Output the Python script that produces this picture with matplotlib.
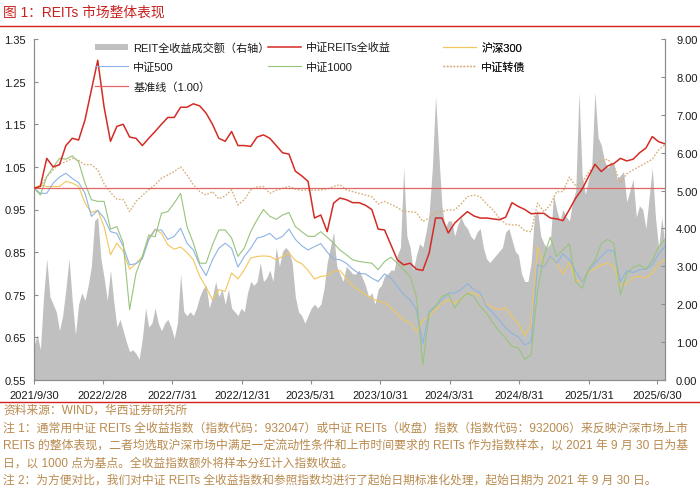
import matplotlib
matplotlib.use("Agg")
import matplotlib.pyplot as plt
from matplotlib.patches import Patch
from matplotlib.lines import Line2D
import pandas as pd

plt.rcParams['font.family'] = ['Liberation Sans', 'Noto Sans CJK SC', 'DejaVu Sans']

# ---------------- data ----------------
start_date = "2021-09-30"
line_dates = pd.date_range(start_date, periods=100, freq="14D")
vol_dates = pd.date_range(start_date, periods=199, freq="7D")

reits_total = [1.000, 1.004, 1.07, 1.05, 1.055, 1.10, 1.117, 1.113, 1.16, 1.23,
               1.30, 1.19, 1.11, 1.145, 1.15, 1.12, 1.117, 1.10, 1.117, 1.133,
               1.15, 1.166, 1.166, 1.19, 1.19, 1.198, 1.193, 1.176, 1.15, 1.117,
               1.11, 1.133, 1.10, 1.10, 1.098, 1.12, 1.125, 1.117, 1.10, 1.083,
               1.08, 1.04, 1.029, 1.016, 0.93, 0.937, 0.898, 0.965, 0.977, 0.973,
               0.966, 0.966, 0.96, 0.95, 0.904, 0.902, 0.867, 0.832, 0.82, 0.824,
               0.81, 0.807, 0.848, 0.93, 0.93, 0.895, 0.918, 0.932, 0.945, 0.935,
               0.93, 0.93, 0.928, 0.926, 0.932, 0.966, 0.957, 0.95, 0.94, 0.941,
               0.941, 0.93, 0.928, 0.924, 0.95, 0.977, 0.998, 1.027, 1.056, 1.039,
               1.052, 1.058, 1.07, 1.064, 1.068, 1.083, 1.094, 1.121, 1.109, 1.104]

cb_index = [1.00, 1.004, 1.027, 1.043, 1.057, 1.062, 1.07, 1.065, 1.055, 1.055,
            1.043, 1.01, 0.99, 0.974, 0.973, 0.945, 0.969, 0.983, 0.996, 1.008,
            1.023, 1.031, 1.039, 1.05, 1.031, 1.008, 0.992, 0.984, 0.992, 0.975,
            0.982, 0.996, 0.961, 0.973, 0.996, 1.003, 1.004, 0.988, 0.995, 1.0,
            1.004, 0.998, 0.995, 0.996, 0.995, 0.996, 0.998, 1.004, 1.008, 0.996,
            0.992, 0.988, 0.984, 0.98, 0.963, 0.969, 0.962, 0.955, 0.945, 0.945,
            0.943, 0.922, 0.93, 0.944, 0.945, 0.949, 0.949, 0.963, 0.98, 0.984,
            0.98, 0.963, 0.949, 0.93, 0.916, 0.914, 0.914, 0.9, 0.898, 0.965,
            0.945, 0.961, 0.992, 0.992, 1.026, 1.005, 1.013, 1.037, 1.055, 1.064,
            1.068, 1.051, 1.013, 1.034, 1.043, 1.051, 1.059, 1.068, 1.09, 1.102]

csi1000 = [1.0, 0.984, 1.027, 1.049, 1.07, 1.068, 1.076, 1.062, 1.012, 0.973,
           0.969, 0.969, 0.904, 0.91, 0.871, 0.715, 0.80, 0.84, 0.89, 0.886,
           0.941, 0.945, 0.965, 0.988, 0.91, 0.871, 0.824, 0.824, 0.867, 0.902,
           0.902, 0.883, 0.84, 0.86, 0.898, 0.926, 0.95, 0.934, 0.927, 0.937,
           0.943, 0.91, 0.898, 0.887, 0.887, 0.898, 0.885, 0.871, 0.855, 0.844,
           0.832, 0.828, 0.826, 0.824, 0.809, 0.828, 0.838, 0.824, 0.809, 0.793,
           0.746, 0.585, 0.707, 0.723, 0.746, 0.752, 0.719, 0.74, 0.754, 0.746,
           0.723, 0.707, 0.684, 0.664, 0.648, 0.629, 0.625, 0.598, 0.61, 0.76,
           0.84, 0.885, 0.84, 0.855, 0.87, 0.78, 0.765, 0.81, 0.83, 0.87,
           0.88, 0.87, 0.75, 0.80, 0.815, 0.82, 0.81, 0.83, 0.862, 0.88]

csi500 = [1.0, 0.988, 0.988, 1.012, 1.026, 1.035, 1.023, 1.013, 0.988, 0.934,
          0.948, 0.93, 0.898, 0.894, 0.863, 0.82, 0.823, 0.834, 0.879, 0.902,
          0.902, 0.88, 0.887, 0.906, 0.871, 0.855, 0.82, 0.795, 0.832, 0.859,
          0.871, 0.859, 0.815, 0.84, 0.859, 0.883, 0.887, 0.894, 0.88, 0.887,
          0.904, 0.88, 0.865, 0.855, 0.863, 0.87, 0.85, 0.834, 0.832, 0.824,
          0.81, 0.80, 0.799, 0.789, 0.781, 0.799, 0.789, 0.77, 0.75, 0.738,
          0.715, 0.635, 0.711, 0.723, 0.738, 0.754, 0.754, 0.762, 0.776, 0.762,
          0.754, 0.723, 0.707, 0.691, 0.672, 0.659, 0.651, 0.632, 0.64, 0.82,
          0.815, 0.84, 0.824, 0.846, 0.832, 0.805, 0.781, 0.805, 0.824, 0.84,
          0.855, 0.852, 0.781, 0.807, 0.802, 0.809, 0.81, 0.82, 0.846, 0.863]

hs300 = [1.0, 1.008, 1.004, 1.004, 1.004, 1.016, 1.012, 1.004, 0.965, 0.943,
         0.948, 0.91, 0.844, 0.871, 0.852, 0.81, 0.823, 0.84, 0.883, 0.904,
         0.894, 0.867, 0.857, 0.862, 0.849, 0.832, 0.793, 0.768, 0.738, 0.762,
         0.758, 0.801, 0.787, 0.809, 0.836, 0.84, 0.841, 0.84, 0.832, 0.84,
         0.849, 0.83, 0.823, 0.807, 0.787, 0.793, 0.795, 0.805, 0.807, 0.789,
         0.77, 0.76, 0.75, 0.742, 0.734, 0.732, 0.719, 0.705, 0.691, 0.684,
         0.664, 0.69, 0.699, 0.715, 0.73, 0.738, 0.73, 0.74, 0.754, 0.754,
         0.746, 0.729, 0.719, 0.715, 0.719, 0.698, 0.682, 0.655, 0.68, 0.863,
         0.82, 0.836, 0.824, 0.799, 0.826, 0.781, 0.785, 0.802, 0.812, 0.82,
         0.824, 0.815, 0.771, 0.777, 0.791, 0.793, 0.789, 0.801, 0.823, 0.832]

turnover = [0.9, 1.2, 0.8, 2.2, 3.2, 2.2, 2.0, 1.8, 1.3, 1.7,
            2.4, 3.2, 2.1, 1.2, 2.0, 2.3, 2.1, 2.5, 3.0, 4.2,
            4.3, 3.2, 2.7, 2.1, 2.9, 2.1, 1.4, 1.6, 1.3, 1.0,
            0.75, 0.8, 0.7, 0.55, 1.1, 1.9, 1.4, 1.5, 1.9, 1.5,
            1.3, 1.5, 1.6, 1.4, 1.1, 1.5, 2.8, 1.8, 1.7, 1.8,
            1.7, 1.9, 2.2, 2.4, 2.5, 1.9, 2.2, 2.6, 2.2, 2.4,
            2.0, 2.4, 1.9, 1.8, 1.7, 1.9, 1.8, 2.3, 2.6, 2.5,
            2.6, 3.1, 2.6, 2.7, 2.9, 2.6, 3.5, 3.0, 3.4, 3.5,
            3.4, 3.1, 2.2, 1.8, 1.7, 1.5, 1.7, 1.9, 2.0, 1.9,
            2.0, 2.4, 3.1, 3.5, 3.9, 3.0, 2.8, 2.6, 3.0, 2.9,
            2.8, 2.8, 2.9, 2.7, 2.5, 2.2, 2.3, 2.0, 2.4, 2.5,
            2.75, 2.8, 2.9, 2.9, 3.3, 3.5, 5.6, 3.8, 3.5, 2.9,
            3.3, 3.6, 3.5, 3.9, 4.4, 5.6, 7.5, 6.0, 4.6, 4.0,
            4.2, 4.2, 3.8, 4.1, 4.3, 4.1, 4.0, 3.8, 3.7, 3.9,
            4.0, 3.5, 3.2, 3.1, 3.2, 3.3, 3.4, 3.5, 3.9, 4.0,
            3.7, 3.4, 3.3, 2.8, 2.6, 2.6, 3.1, 4.3, 4.5, 3.8,
            3.6, 3.5, 3.6, 4.9, 4.5, 4.2, 4.5, 4.3, 4.2, 4.7,
            5.0, 7.6, 5.4, 4.9, 5.3, 5.6, 7.6, 6.4, 6.2, 5.8,
            5.6, 5.7, 5.7, 5.3, 5.4, 5.5, 4.7, 5.0, 5.3, 4.3,
            4.6, 4.5, 4.0, 4.8, 5.6, 4.3, 3.5, 4.3, 3.5]

baseline_value = 1.00
x_tick_labels = ["2021/9/30", "2022/2/28", "2022/7/31", "2022/12/31", "2023/5/31",
                 "2023/10/31", "2024/3/31", "2024/8/31", "2025/1/31", "2025/6/30"]
left_ticks = [0.55, 0.65, 0.75, 0.85, 0.95, 1.05, 1.15, 1.25, 1.35]
right_ticks = [0, 1, 2, 3, 4, 5, 6, 7, 8, 9]

title = "图 1：REITs 市场整体表现"
notes = [
    "资料来源：WIND，华西证券研究所",
    "注 1：通常用中证 REITs 全收益指数（指数代码：932047）或中证 REITs（收盘）指数（指数代码：932006）来反映沪深市场上市",
    "REITs 的整体表现，二者均选取沪深市场中满足一定流动性条件和上市时间要求的 REITs 作为指数样本，以 2021 年 9 月 30 日为基",
    "日，以 1000 点为基点。全收益指数额外将样本分红计入指数收益。",
    "注 2：为方便对比，我们对中证 REITs 全收益指数和参照指数均进行了起始日期标准化处理，起始日期为 2021 年 9 月 30 日。",
]

# ---------------- style ----------------
C_RED = "#D42B25"
C_BASE = "#E06666"
C_HS300 = "#F2C65A"
C_500 = "#8DB4E2"
C_1000 = "#98C47C"
C_CB = "#D8AE7A"
C_GRAY = "#C0C0C0"
C_AXIS = "#8C8C8C"
C_NOTE = "#B98A4E"

W, H = 700, 489
fig = plt.figure(figsize=(W / 100, H / 100), dpi=100)
ax = fig.add_axes([34 / W, 1 - 381 / H, (665 - 34) / W, (381 - 40) / H])
ax2 = ax.twinx()

# turnover area (right axis)
ax2.fill_between(vol_dates, 0, turnover, color=C_GRAY, lw=0, zorder=1)
ax2.set_ylim(0, 9)
ax2.set_yticks(right_ticks)
ax2.set_yticklabels([f"{v:.2f}" for v in right_ticks])

# lines (left axis) drawn above
ax.set_zorder(ax2.get_zorder() + 1)
ax.patch.set_visible(False)

ax.plot(line_dates, cb_index, color=C_CB, lw=1.0, ls=(0, (1.2, 1.2)), zorder=3)
ax.plot(line_dates, hs300, color=C_HS300, lw=0.8, zorder=3)
ax.plot(line_dates, csi500, color=C_500, lw=0.8, zorder=3)
ax.plot(line_dates, csi1000, color=C_1000, lw=0.8, zorder=3)
ax.axhline(baseline_value, color=C_BASE, lw=0.9, zorder=4)
ax.plot(line_dates, reits_total, color=C_RED, lw=1.1, zorder=5)

ax.set_ylim(0.55, 1.35)
ax.set_yticks(left_ticks)
ax.set_yticklabels([f"{v:.2f}" for v in left_ticks])
ax.set_xlim(line_dates[0], line_dates[-1])
tick_dates = pd.to_datetime(x_tick_labels, format="%Y/%m/%d")
ax.set_xticks(tick_dates)
ax.set_xticklabels(x_tick_labels)

for a in (ax, ax2):
    for s in a.spines.values():
        s.set_color(C_AXIS)
        s.set_linewidth(0.8)
    a.spines["top"].set_visible(False)
ax.tick_params(axis="y", direction="in", length=3, width=0.8, color=C_AXIS,
               labelsize=8, pad=6, labelcolor="#1a1a1a")
ax2.tick_params(axis="y", direction="in", length=3, width=0.8, color=C_AXIS,
                labelsize=8, pad=8, labelcolor="#1a1a1a")
ax.tick_params(axis="x", direction="out", length=3, width=0.8, color=C_AXIS,
               labelsize=8, pad=4.5, labelcolor="#1a1a1a")

# legends (three columns placed separately)
h_vol = Patch(facecolor=C_GRAY, edgecolor="none")
h_red = Line2D([], [], color=C_RED, lw=1.1)
h_300 = Line2D([], [], color=C_HS300, lw=0.8)
h_500 = Line2D([], [], color=C_500, lw=0.8)
h_1000 = Line2D([], [], color=C_1000, lw=0.8)
h_cb = Line2D([], [], color=C_CB, lw=1.0, ls=(0, (1.2, 1.2)))
h_base = Line2D([], [], color=C_BASE, lw=0.9)

leg_kw = dict(loc="upper left", frameon=False, fontsize=8, borderpad=0,
              borderaxespad=0, handlelength=3.0, handletextpad=0.45,
              labelspacing=0.8, handleheight=0.55, bbox_transform=fig.transFigure)
cols = [
    ([h_vol, h_500, h_base], ["REIT全收益成交额（右轴）", "中证500", "基准线（1.00）"], 95),
    ([h_red, h_1000], ["中证REITs全收益", "中证1000"], 268),
    ([h_300, h_cb], ["沪深300", "中证转债"], 443),
]
for hs, ls_, xp in cols:
    lg = ax.legend(hs, ls_, bbox_to_anchor=(xp / W, 1 - 43 / H), **leg_kw)
    for t in lg.get_texts():
        t.set_color("#1a1a1a")
    ax.add_artist(lg)

# title, rules, notes
fig.text(3 / W, 1 - 13 / H, title, color="#C9211E", fontsize=9.9, va="center", ha="left")
fig.add_artist(Line2D([0, 1], [1 - 27 / H, 1 - 27 / H], transform=fig.transFigure,
                      color="#D42020", lw=1.0))
fig.add_artist(Line2D([0, 1], [1 - 403 / H, 1 - 403 / H], transform=fig.transFigure,
                      color="#D42020", lw=1.0))
note_y = [411, 429, 446, 464, 481]
note_size = [8.45, 8.55, 8.55, 8.45, 8.45]
for txt, yp, fs in zip(notes, note_y, note_size):
    fig.text(3 / W, 1 - yp / H, txt, color=C_NOTE, fontsize=fs, va="center", ha="left")

fig.savefig("out.png", dpi=100)
